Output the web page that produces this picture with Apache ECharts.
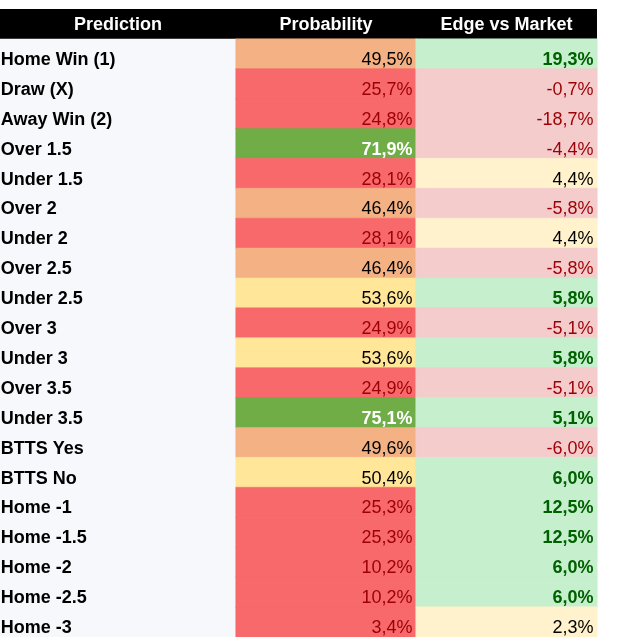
<!DOCTYPE html>
<html>
<head>
<meta charset="utf-8">
<script src="https://cdn.jsdelivr.net/npm/echarts@6/dist/echarts.min.js"></script>
<style>
html,body{margin:0;padding:0;background:#fff;}
#chart{width:617px;height:637px;}
</style>
</head>
<body>
<div id="chart"></div>
<script>
const headers = ['Prediction', 'Probability', 'Edge vs Market'];
const predictions = ['Home Win (1)', 'Draw (X)', 'Away Win (2)', 'Over 1.5', 'Under 1.5', 'Over 2', 'Under 2', 'Over 2.5', 'Under 2.5', 'Over 3', 'Under 3', 'Over 3.5', 'Under 3.5', 'BTTS Yes', 'BTTS No', 'Home -1', 'Home -1.5', 'Home -2', 'Home -2.5', 'Home -3'];
const probability = [49.5, 25.7, 24.8, 71.9, 28.1, 46.4, 28.1, 46.4, 53.6, 24.9, 53.6, 24.9, 75.1, 49.6, 50.4, 25.3, 25.3, 10.2, 10.2, 3.4];
const edge = [19.3, -0.7, -18.7, -4.4, 4.4, -5.8, 4.4, -5.8, 5.8, -5.1, 5.8, -5.1, 5.1, -6.0, 6.0, 12.5, 12.5, 6.0, 6.0, 2.3];

const FONT = '"Liberation Sans", Arial, sans-serif';
const fmt = v => v.toFixed(1).replace('.', ',') + '%';

function probStyle(v) {
  if (v >= 70) return { bg: '#70ad47', fg: '#ffffff', bold: true };
  if (v >= 50) return { bg: '#ffe699', fg: '#000000', bold: false };
  if (v >= 30) return { bg: '#f4b183', fg: '#000000', bold: false };
  return { bg: '#f8696b', fg: '#9c0006', bold: false };
}
function edgeStyle(v) {
  if (v >= 5) return { bg: '#c6efce', fg: '#006100', bold: true };
  if (v < 0) return { bg: '#f4cccc', fg: '#9c0006', bold: false };
  return { bg: '#fff2cc', fg: '#000000', bold: false };
}

const grids = [
  { left: 0, top: 39, width: 236, height: 600 },
  { left: 236, top: 39, width: 180, height: 600 },
  { left: 416, top: 39, width: 181, height: 600 }
];

const xAxes = headers.map((h, i) => ({
  type: 'category', gridIndex: i, position: 'top', data: [h],
  axisLine: { show: false }, axisTick: { show: false }, splitLine: { show: false },
  axisLabel: { color: '#ffffff', fontWeight: 'bold', fontSize: 18, fontFamily: FONT, margin: 14, verticalAlign: 'middle', interval: 0 }
}));
const yAxes = headers.map((h, i) => ({
  type: 'category', gridIndex: i, inverse: true, data: predictions, show: false
}));

const rowIdx = predictions.map((p, i) => i);

const predSeries = {
  type: 'heatmap', xAxisIndex: 0, yAxisIndex: 0,
  data: rowIdx.map(i => ({
    value: [0, i, i],
    itemStyle: { color: '#f7f8fc' },
    label: {
      show: true, formatter: predictions[i], position: 'insideLeft', distance: 1,
      offset: [0, 6], color: '#000', fontWeight: 'bold', fontSize: 18, fontFamily: FONT
    }
  })),
  emphasis: { disabled: true }
};

function valueSeries(idx, arr, styler) {
  return {
    type: 'heatmap', xAxisIndex: idx, yAxisIndex: idx,
    data: arr.map((v, i) => {
      const s = styler(v);
      return {
        value: [0, i, v],
        itemStyle: { color: s.bg, borderColor: s.bg, borderWidth: 0.5 },
        label: {
          show: true, formatter: fmt(v), position: 'insideRight', distance: 4,
          offset: [0, 6], color: s.fg, fontWeight: s.bold ? 'bold' : 'normal',
          fontSize: 18, fontFamily: FONT
        }
      };
    }),
    emphasis: { disabled: true }
  };
}

const chart = echarts.init(document.getElementById('chart'), null, { renderer: 'canvas' });
chart.setOption({
  animation: false,
  backgroundColor: '#ffffff',
  grid: grids,
  xAxis: xAxes,
  yAxis: yAxes,
  graphic: {
    elements: [{ type: 'rect', z: -10, shape: { x: 0, y: 9, width: 597, height: 30 }, style: { fill: '#000000' } }]
  },
  series: [predSeries, valueSeries(1, probability, probStyle), valueSeries(2, edge, edgeStyle)]
});
</script>
</body>
</html>
